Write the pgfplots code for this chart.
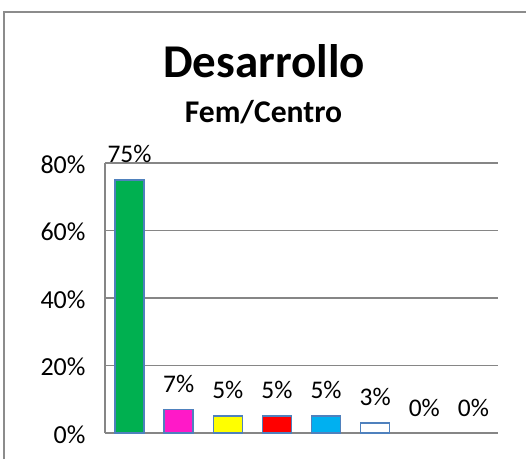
\documentclass[border=0pt]{standalone}
\usepackage{fontspec}
\setmainfont{Carlito}
\usepackage{pgfplots}
\pgfplotsset{compat=1.18}
\definecolor{axgray}{HTML}{868686}
\definecolor{framegray}{HTML}{8C8C8C}
\definecolor{bedge}{HTML}{4F81BD}
\definecolor{cgreen}{HTML}{00B050}
\definecolor{cmag}{HTML}{FF19C8}
\definecolor{cyel}{HTML}{FFFF00}
\definecolor{cred}{HTML}{FF0000}
\definecolor{ccyan}{HTML}{00B0F0}
\begin{document}
\begin{tikzpicture}
\useasboundingbox (0pt,0pt) rectangle (526pt,459pt);
\draw[framegray, line width=2pt] (4pt,0pt) -- (4pt,447pt) -- (526pt,447pt);
\node[anchor=base, font=\bfseries\fontsize{47}{47}\selectfont] at (264pt,382pt) {Desarrollo};
\node[anchor=base, font=\bfseries\fontsize{31.6}{32}\selectfont] at (263.5pt,337pt) {Fem/Centro};
\begin{axis}[
  at={(105pt,26pt)}, anchor=south west,
  scale only axis, width=393pt, height=270pt,
  xmin=-0.5, xmax=7.5, ymin=0, ymax=80,
  axis lines*=left,
  axis line style={axgray, line width=1.6pt},
  ymajorgrids, grid style={axgray, line width=1.6pt},
  ytick={0,20,40,60,80},
  xtick=\empty,
  major tick length=0pt,
  /pgf/number format/assume math mode=true,
  yticklabel={\pgfmathprintnumber{\tick}\%},
  yticklabel style={font=\fontsize{26}{26}\selectfont, xshift=-16pt, yshift=-1.5pt},
  ybar, bar width=29pt, bar shift=0pt,
  nodes near coords={\pgfmathprintnumber{\pgfplotspointmeta}\%},
  every node near coord/.append style={font=\fontsize{25.4}{26}\selectfont, text=black, yshift=13pt},
  clip=false,
]
\addplot[fill=cgreen, draw=bedge, line width=1.5pt] coordinates {(0,75)};
\addplot[fill=cmag, draw=bedge, line width=1.5pt] coordinates {(1,7)};
\addplot[fill=cyel, draw=bedge, line width=1.5pt] coordinates {(2,5)};
\addplot[fill=cred, draw=bedge, line width=1.5pt] coordinates {(3,5)};
\addplot[fill=ccyan, draw=bedge, line width=1.5pt] coordinates {(4,5)};
\addplot[fill=white, draw=bedge, line width=1.5pt] coordinates {(5,3)};
\addplot[fill=none, draw=none] coordinates {(6,0)};
\addplot[fill=none, draw=none] coordinates {(7,0)};
\end{axis}
\end{tikzpicture}
\end{document}
